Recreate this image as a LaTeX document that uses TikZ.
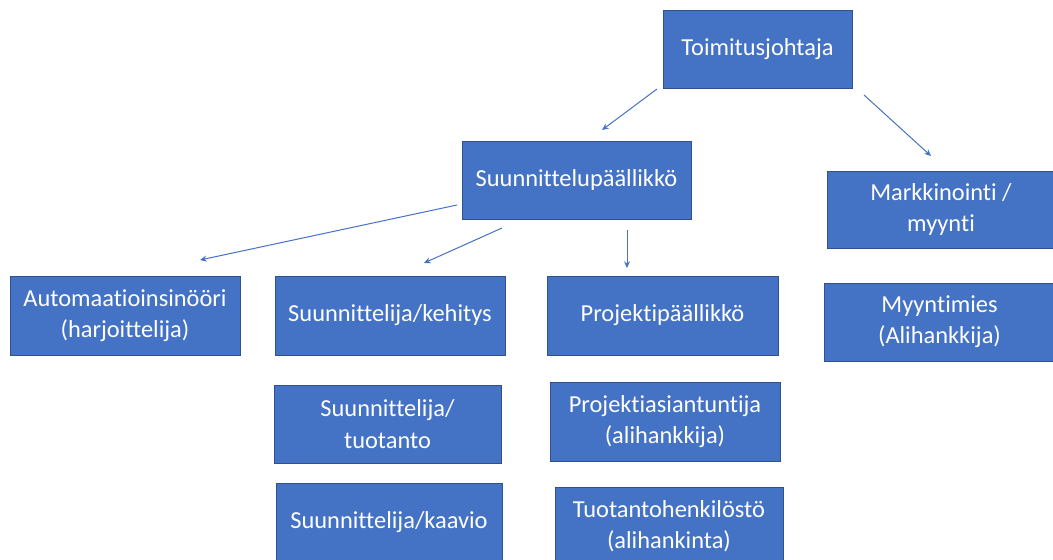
\documentclass[tikz,border=0pt]{standalone}
\usepackage{fontspec}
\setmainfont{Carlito}[Ligatures=CommonOff]
\usetikzlibrary{arrows.meta}
\definecolor{boxfill}{HTML}{4472C4}
\definecolor{boxline}{HTML}{2F528F}
\definecolor{arrowblue}{HTML}{4472C4}
\begin{document}
\begin{tikzpicture}[x=0.75pt,y=-0.75pt,
  orgbox/.style={draw=boxline, line width=0.6pt, fill=boxfill, text=white,
    align=center, inner sep=0pt, font=\fontsize{18.3}{23.5}\selectfont},
  sz/.style 2 args={minimum width=#1*0.75pt, minimum height=#2*0.75pt},
  link/.style={draw=arrowblue, line width=0.75pt,
    -{Stealth[length=5pt,width=4.5pt]}}]
\clip (0,0) rectangle (1053,560);
\fill[white] (0,0) rectangle (1053,560);

% top level
\node[orgbox, sz={189}{78}] (toim) at (757.5,49) {Toimitusjohtaja};
% second level
\node[orgbox, sz={229}{78}] (suun) at (576.5,180) {Suunnittelupäällikkö};
\node[orgbox, sz={228}{77}] (mark) at (941,209.5) {Markkinointi /\\myynti};
% third level
\node[orgbox, sz={230}{79}] (auto) at (125,315.5) {Automaatioinsinööri\\(harjoittelija)};
\node[orgbox, sz={230}{79}] (keh) at (390,315.5) {Suunnittelija/kehitys};
\node[orgbox, sz={227}{78}] (tuot) at (387.5,424) {Suunnittelija/\\tuotanto};
\node[orgbox, sz={226}{78}] (kaav) at (389,522) {Suunnittelija/kaavio};
\node[orgbox, sz={231}{79}] (ppl) at (662.5,315.5) {Projektipäällikkö};
\node[orgbox, sz={230}{79}] (pas) at (665,421.5) {Projektiasiantuntija\\(alihankkija)};
\node[orgbox, sz={228}{78}] (tuoh) at (669,526) {Tuotantohenkilöstö\\(alihankinta)};
\node[orgbox, sz={231}{78}] (myy) at (939.5,322) {Myyntimies\\(Alihankkija)};

% free-standing arrow ends
\coordinate (a1s) at (657,89);  \coordinate (a1e) at (602,130);
\coordinate (a2s) at (864,95);  \coordinate (a2e) at (931,156);
\coordinate (a3s) at (457,205); \coordinate (a3e) at (200,260);
\coordinate (a4s) at (502,228); \coordinate (a4e) at (424,263);
\coordinate (a5s) at (627,230); \coordinate (a5e) at (627,268);

\draw[link] (a1s) -- (a1e);
\draw[link] (a2s) -- (a2e);
\draw[link] (a3s) -- (a3e);
\draw[link] (a4s) -- (a4e);
\draw[link] (a5s) -- (a5e);
\end{tikzpicture}
\end{document}
